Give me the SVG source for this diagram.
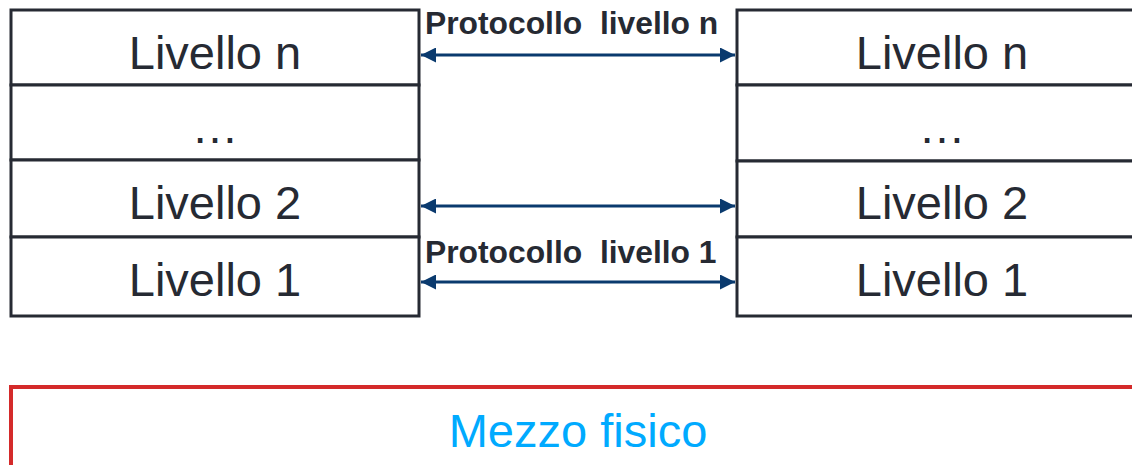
<svg xmlns="http://www.w3.org/2000/svg" width="1132" height="465" viewBox="0 0 1132 465">
  <style>
    .box { fill: #ffffff; stroke: #262a33; stroke-width: 3; }
    .lbl { font-family: "Liberation Sans", Arial, sans-serif; font-size: 47px; fill: #262a33; text-anchor: middle; }
    .proto { font-family: "Liberation Sans", Arial, sans-serif; font-size: 31.8px; font-weight: bold; fill: #262a33; white-space: pre; }
    .link { stroke: #0a3a6e; stroke-width: 3; fill: none; marker-start: url(#head); marker-end: url(#head); }
    .medium { fill: #ffffff; stroke: #d42a2a; stroke-width: 4; }
    .mlbl { font-family: "Liberation Sans", Arial, sans-serif; font-size: 47px; fill: #00aaff; text-anchor: middle; }
  </style>
  <defs>
    <marker id="head" viewBox="0 0 10 10" refX="10" refY="5" markerWidth="5" markerHeight="5" orient="auto-start-reverse" markerUnits="strokeWidth">
      <path d="M0,0 L10,5 L0,10 z" fill="#0a3a6e"/>
    </marker>
  </defs>

  <rect width="1132" height="465" fill="#ffffff"/>

  <!-- left protocol stack -->
  <g id="stackA">
    <g id="a-n"><rect class="box" x="11" y="10" width="408" height="75"/><text class="lbl" x="215" y="69">Livello n</text></g>
    <g id="a-dots"><rect class="box" x="11" y="85" width="408" height="75"/><text class="lbl" x="215" y="143">…</text></g>
    <g id="a-2"><rect class="box" x="11" y="160" width="408" height="77"/><text class="lbl" x="215" y="219">Livello 2</text></g>
    <g id="a-1"><rect class="box" x="11" y="237" width="408" height="79"/><text class="lbl" x="215" y="296">Livello 1</text></g>
  </g>

  <!-- right protocol stack -->
  <g id="stackB">
    <g id="b-n"><rect class="box" x="737" y="10" width="410" height="75"/><text class="lbl" x="942" y="69">Livello n</text></g>
    <g id="b-dots"><rect class="box" x="737" y="85" width="410" height="76"/><text class="lbl" x="942" y="143">…</text></g>
    <g id="b-2"><rect class="box" x="737" y="161" width="410" height="76"/><text class="lbl" x="942" y="219">Livello 2</text></g>
    <g id="b-1"><rect class="box" x="737" y="237" width="410" height="79"/><text class="lbl" x="942" y="296">Livello 1</text></g>
  </g>

  <!-- peer-to-peer protocol links -->
  <g id="links">
    <line class="link" x1="421" y1="55" x2="735" y2="55"/>
    <line class="link" x1="421" y1="206" x2="735" y2="206"/>
    <line class="link" x1="421" y1="282" x2="735" y2="282"/>
    <text class="proto" x="425" y="34">Protocollo  livello n</text>
    <text class="proto" x="425" y="263">Protocollo  livello 1</text>
  </g>

  <!-- physical medium -->
  <g id="medium">
    <rect class="medium" x="11" y="387" width="1140" height="100"/>
    <text class="mlbl" x="578" y="447">Mezzo fisico</text>
  </g>
</svg>
